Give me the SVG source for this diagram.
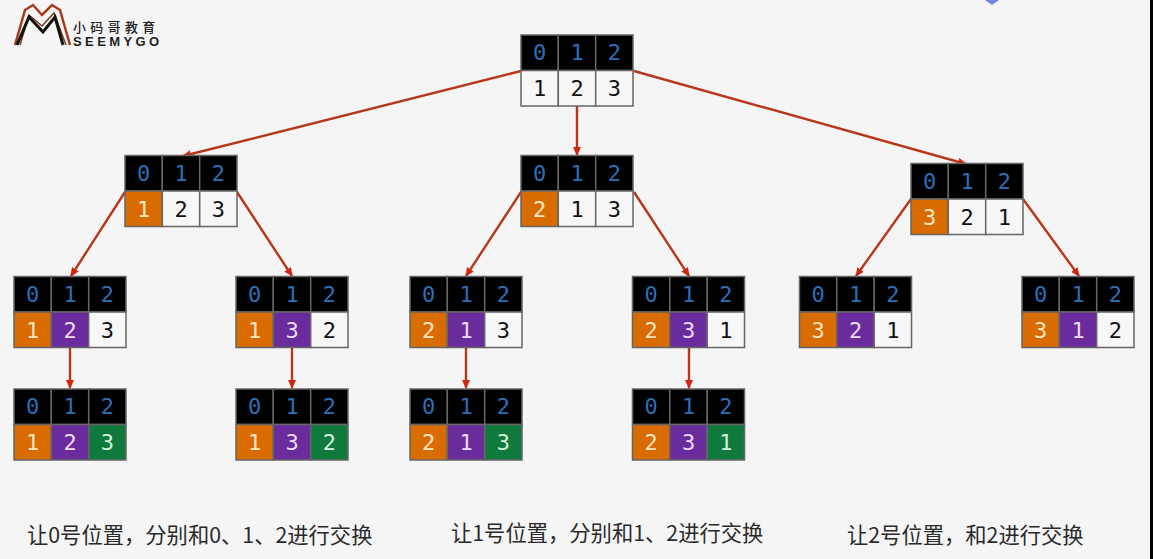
<svg xmlns="http://www.w3.org/2000/svg" width="1153" height="559" viewBox="0 0 1153 559">
<style>
.c{stroke:#666;stroke-width:1.5}
.h{fill:#000}.w{fill:#f7f7f7}.o{fill:#d96c00}.p{fill:#6a2c9c}.g{fill:#107a3c}
text.t{font-family:"DejaVu Sans Mono",monospace;font-size:22px;text-anchor:middle}
.b{fill:#2a70b8}.k{fill:#111}.l{fill:#fbe6c8}.m{fill:#eadcf5}.n{fill:#d3f2dd}
.link{stroke:#b8371a;stroke-width:2.4;fill:none;marker-end:url(#a)}
.cap{font-family:"Noto Sans CJK SC","Liberation Sans",sans-serif;font-size:21.3px;fill:#2a2a2a}
</style>
<defs>
<marker id="a" markerWidth="10" markerHeight="8" refX="8" refY="4" orient="auto" markerUnits="userSpaceOnUse"><path d="M0,0L9,4L0,8Z" fill="#d0260f"/></marker>
<g id="hd">
<rect class="c h" x="0" y="0" width="37.3" height="35.5"/><rect class="c h" x="37.3" y="0" width="37.4" height="35.5"/><rect class="c h" x="74.7" y="0" width="37.3" height="35.5"/>
</g>
</defs>
<rect width="1153" height="559" fill="#f5f5f5"/>
<rect x="1150" y="0" width="3" height="559" fill="#000"/>
<path d="M985,0L992,5L999,0Z" fill="#6f86dc"/>
<g id="logo">
<path d="M15,45L25,10L33,5L42,15L52,5L60,10L70,45" fill="none" stroke="#a83a1c" stroke-width="2.5"/>
<path d="M20,45L29,15L42,26L54,13L66,45" fill="none" stroke="#7a3a28" stroke-width="1.5"/>
<path d="M17,45L29,17L43,32L55,17L63,45" fill="none" stroke="#111" stroke-width="3"/>
<text x="73" y="32" font-family="'Noto Sans CJK SC',sans-serif" font-size="13" font-weight="500" letter-spacing="4.3" fill="#222">小码哥教育</text>
<text x="73" y="46" font-family="'Liberation Sans',sans-serif" font-size="13" font-weight="700" letter-spacing="3.4" fill="#222">SEEMYGO</text>
</g>
<g id="connectors">
<path class="link" d="M521,71L183,156"/>
<path class="link" d="M577,106L577,155"/>
<path class="link" d="M634,71L966,164"/>
<path class="link" d="M125,192L71,276"/>
<path class="link" d="M237,192L292,276"/>
<path class="link" d="M521,192L466,276"/>
<path class="link" d="M634,192L689,276"/>
<path class="link" d="M911,199L856,276"/>
<path class="link" d="M1023,199L1079,276"/>
<path class="link" d="M70,348L70,388"/>
<path class="link" d="M292,348L292,388"/>
<path class="link" d="M466,348L466,388"/>
<path class="link" d="M689,348L689,388"/>
</g>
<g id="n-root" transform="translate(521,35)"><use href="#hd"/><rect class="c w" y="35.5" width="37.3" height="35.5"/><rect class="c w" x="37.3" y="35.5" width="37.4" height="35.5"/><rect class="c w" x="74.7" y="35.5" width="37.3" height="35.5"/><text class="t b" x="18.7" y="25">0</text><text class="t b" x="56" y="25">1</text><text class="t b" x="93.3" y="25">2</text><text class="t k" x="18.7" y="61">1</text><text class="t k" x="56" y="61">2</text><text class="t k" x="93.3" y="61">3</text></g>
<g id="n-a" transform="translate(125,155.5)"><use href="#hd"/><rect class="c o" y="35.5" width="37.3" height="35.5"/><rect class="c w" x="37.3" y="35.5" width="37.4" height="35.5"/><rect class="c w" x="74.7" y="35.5" width="37.3" height="35.5"/><text class="t b" x="18.7" y="25">0</text><text class="t b" x="56" y="25">1</text><text class="t b" x="93.3" y="25">2</text><text class="t l" x="18.7" y="61">1</text><text class="t k" x="56" y="61">2</text><text class="t k" x="93.3" y="61">3</text></g>
<g id="n-b" transform="translate(521,155.5)"><use href="#hd"/><rect class="c o" y="35.5" width="37.3" height="35.5"/><rect class="c w" x="37.3" y="35.5" width="37.4" height="35.5"/><rect class="c w" x="74.7" y="35.5" width="37.3" height="35.5"/><text class="t b" x="18.7" y="25">0</text><text class="t b" x="56" y="25">1</text><text class="t b" x="93.3" y="25">2</text><text class="t l" x="18.7" y="61">2</text><text class="t k" x="56" y="61">1</text><text class="t k" x="93.3" y="61">3</text></g>
<g id="n-c" transform="translate(911,163.5)"><use href="#hd"/><rect class="c o" y="35.5" width="37.3" height="35.5"/><rect class="c w" x="37.3" y="35.5" width="37.4" height="35.5"/><rect class="c w" x="74.7" y="35.5" width="37.3" height="35.5"/><text class="t b" x="18.7" y="25">0</text><text class="t b" x="56" y="25">1</text><text class="t b" x="93.3" y="25">2</text><text class="t l" x="18.7" y="61">3</text><text class="t k" x="56" y="61">2</text><text class="t k" x="93.3" y="61">1</text></g>
<g id="n-a1" transform="translate(14,276.5)"><use href="#hd"/><rect class="c o" y="35.5" width="37.3" height="35.5"/><rect class="c p" x="37.3" y="35.5" width="37.4" height="35.5"/><rect class="c w" x="74.7" y="35.5" width="37.3" height="35.5"/><text class="t b" x="18.7" y="25">0</text><text class="t b" x="56" y="25">1</text><text class="t b" x="93.3" y="25">2</text><text class="t l" x="18.7" y="61">1</text><text class="t m" x="56" y="61">2</text><text class="t k" x="93.3" y="61">3</text></g>
<g id="n-a2" transform="translate(236,276.5)"><use href="#hd"/><rect class="c o" y="35.5" width="37.3" height="35.5"/><rect class="c p" x="37.3" y="35.5" width="37.4" height="35.5"/><rect class="c w" x="74.7" y="35.5" width="37.3" height="35.5"/><text class="t b" x="18.7" y="25">0</text><text class="t b" x="56" y="25">1</text><text class="t b" x="93.3" y="25">2</text><text class="t l" x="18.7" y="61">1</text><text class="t m" x="56" y="61">3</text><text class="t k" x="93.3" y="61">2</text></g>
<g id="n-b1" transform="translate(410,276.5)"><use href="#hd"/><rect class="c o" y="35.5" width="37.3" height="35.5"/><rect class="c p" x="37.3" y="35.5" width="37.4" height="35.5"/><rect class="c w" x="74.7" y="35.5" width="37.3" height="35.5"/><text class="t b" x="18.7" y="25">0</text><text class="t b" x="56" y="25">1</text><text class="t b" x="93.3" y="25">2</text><text class="t l" x="18.7" y="61">2</text><text class="t m" x="56" y="61">1</text><text class="t k" x="93.3" y="61">3</text></g>
<g id="n-b2" transform="translate(632.500,276.5)"><use href="#hd"/><rect class="c o" y="35.5" width="37.3" height="35.5"/><rect class="c p" x="37.3" y="35.5" width="37.4" height="35.5"/><rect class="c w" x="74.7" y="35.5" width="37.3" height="35.5"/><text class="t b" x="18.7" y="25">0</text><text class="t b" x="56" y="25">1</text><text class="t b" x="93.3" y="25">2</text><text class="t l" x="18.7" y="61">2</text><text class="t m" x="56" y="61">3</text><text class="t k" x="93.3" y="61">1</text></g>
<g id="n-c1" transform="translate(799.500,276.5)"><use href="#hd"/><rect class="c o" y="35.5" width="37.3" height="35.5"/><rect class="c p" x="37.3" y="35.5" width="37.4" height="35.5"/><rect class="c w" x="74.7" y="35.5" width="37.3" height="35.5"/><text class="t b" x="18.7" y="25">0</text><text class="t b" x="56" y="25">1</text><text class="t b" x="93.3" y="25">2</text><text class="t l" x="18.7" y="61">3</text><text class="t m" x="56" y="61">2</text><text class="t k" x="93.3" y="61">1</text></g>
<g id="n-c2" transform="translate(1022,276.5)"><use href="#hd"/><rect class="c o" y="35.5" width="37.3" height="35.5"/><rect class="c p" x="37.3" y="35.5" width="37.4" height="35.5"/><rect class="c w" x="74.7" y="35.5" width="37.3" height="35.5"/><text class="t b" x="18.7" y="25">0</text><text class="t b" x="56" y="25">1</text><text class="t b" x="93.3" y="25">2</text><text class="t l" x="18.7" y="61">3</text><text class="t m" x="56" y="61">1</text><text class="t k" x="93.3" y="61">2</text></g>
<g id="n-a1a" transform="translate(14,389)"><use href="#hd"/><rect class="c o" y="35.5" width="37.3" height="35.5"/><rect class="c p" x="37.3" y="35.5" width="37.4" height="35.5"/><rect class="c g" x="74.7" y="35.5" width="37.3" height="35.5"/><text class="t b" x="18.7" y="25">0</text><text class="t b" x="56" y="25">1</text><text class="t b" x="93.3" y="25">2</text><text class="t l" x="18.7" y="61">1</text><text class="t m" x="56" y="61">2</text><text class="t n" x="93.3" y="61">3</text></g>
<g id="n-a2a" transform="translate(236,389)"><use href="#hd"/><rect class="c o" y="35.5" width="37.3" height="35.5"/><rect class="c p" x="37.3" y="35.5" width="37.4" height="35.5"/><rect class="c g" x="74.7" y="35.5" width="37.3" height="35.5"/><text class="t b" x="18.7" y="25">0</text><text class="t b" x="56" y="25">1</text><text class="t b" x="93.3" y="25">2</text><text class="t l" x="18.7" y="61">1</text><text class="t m" x="56" y="61">3</text><text class="t n" x="93.3" y="61">2</text></g>
<g id="n-b1a" transform="translate(410,389)"><use href="#hd"/><rect class="c o" y="35.5" width="37.3" height="35.5"/><rect class="c p" x="37.3" y="35.5" width="37.4" height="35.5"/><rect class="c g" x="74.7" y="35.5" width="37.3" height="35.5"/><text class="t b" x="18.7" y="25">0</text><text class="t b" x="56" y="25">1</text><text class="t b" x="93.3" y="25">2</text><text class="t l" x="18.7" y="61">2</text><text class="t m" x="56" y="61">1</text><text class="t n" x="93.3" y="61">3</text></g>
<g id="n-b2a" transform="translate(632.500,389)"><use href="#hd"/><rect class="c o" y="35.5" width="37.3" height="35.5"/><rect class="c p" x="37.3" y="35.5" width="37.4" height="35.5"/><rect class="c g" x="74.7" y="35.5" width="37.3" height="35.5"/><text class="t b" x="18.7" y="25">0</text><text class="t b" x="56" y="25">1</text><text class="t b" x="93.3" y="25">2</text><text class="t l" x="18.7" y="61">2</text><text class="t m" x="56" y="61">3</text><text class="t n" x="93.3" y="61">1</text></g>
<g id="captions">
<text class="cap" x="27" y="543">让0号位置，分别和0、1、2进行交换</text>
<text class="cap" x="451" y="541">让1号位置，分别和1、2进行交换</text>
<text class="cap" x="847" y="543">让2号位置，和2进行交换</text>
</g>
</svg>
